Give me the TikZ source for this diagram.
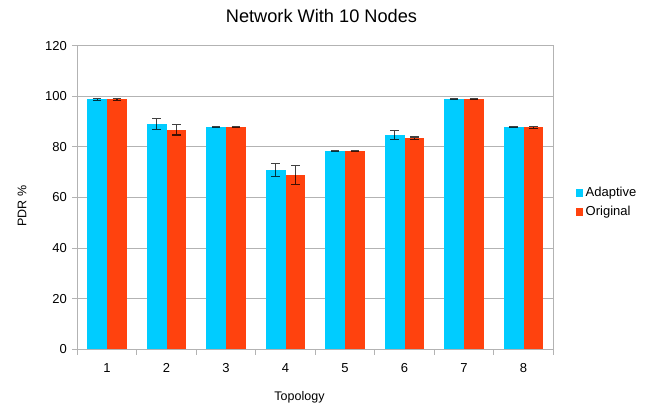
\documentclass[tikz,border=0pt]{standalone}
\usepackage{fontspec}
\setmainfont{Liberation Sans}
\definecolor{adapt}{HTML}{00CCFF}
\definecolor{orig}{HTML}{FF420E}
\definecolor{gridc}{HTML}{B3B3B3}
\tikzset{
  gridline/.style={draw=gridc, line width=1pt},
  barA/.style={fill=adapt, draw=none},
  barO/.style={fill=orig, draw=none},
  errbar/.style={draw=black, draw opacity=0.75, line width=1.1pt},
  ticklab/.style={font=\fontsize{13}{13}\selectfont, inner sep=0pt},
}
\begin{document}
\begin{tikzpicture}[x=1pt, y=-1pt]
\useasboundingbox (0,0) rectangle (659,411);
\fill[white] (0,0) rectangle (659,411);
% gridlines and y ticks
\foreach \v in {0,20,...,120} {
  \pgfmathsetmacro{\yy}{349.3-\v*2.53}
  \draw[gridline] (72,\yy) -- (553.5,\yy);
  \node[ticklab, anchor=east] at (67,\yy) {\v};
}
% right border
\draw[gridline] (553.5,45.7) -- (553.5,355);
% bars
\foreach \i/\a/\ea/\o/\eo in {1/98.8/0.3/98.8/0.3, 2/89.0/2.1/86.7/2.0, 3/87.8/0.3/87.8/0.2, 4/70.9/2.6/68.9/3.6, 5/78.3/0.2/78.3/0.2, 6/84.7/1.7/83.5/0.4, 7/98.9/0.3/98.9/0.3, 8/87.9/0.3/87.7/0.4} {
  \pgfmathsetmacro{\L}{77.3+(\i-1)*59.5}
  \pgfmathsetmacro{\ya}{349.3-\a*2.53}
  \pgfmathsetmacro{\yo}{349.3-\o*2.53}
  \fill[barA] (\L+9.9,349.3) rectangle (\L+29.75,\ya);
  \fill[barO] (\L+29.75,349.3) rectangle (\L+49.6,\yo);
  % error bars
  \pgfmathsetmacro{\xa}{\L+19.8}
  \pgfmathsetmacro{\xo}{\L+39.7}
  \pgfmathsetmacro{\yat}{349.3-(\a+\ea)*2.53}
  \pgfmathsetmacro{\yab}{349.3-(\a-\ea)*2.53}
  \pgfmathsetmacro{\yot}{349.3-(\o+\eo)*2.53}
  \pgfmathsetmacro{\yob}{349.3-(\o-\eo)*2.53}
  \draw[errbar] (\xa,\yat) -- (\xa,\yab) (\xa-4.3,\yat) -- (\xa+4.3,\yat) (\xa-4.3,\yab) -- (\xa+4.3,\yab);
  \draw[errbar] (\xo,\yot) -- (\xo,\yob) (\xo-4.3,\yot) -- (\xo+4.3,\yot) (\xo-4.3,\yob) -- (\xo+4.3,\yob);
  \node[ticklab] at (\L+29.75,368) {\i};
}
% axes
\draw[gridline] (77.3,45.7) -- (77.3,349.3);
\draw[gridline] (72,349.3) -- (553.5,349.3);
\foreach \i in {0,...,8} {
  \draw[gridline] (77.3+\i*59.5,349.3) -- (77.3+\i*59.5,355);
}
% titles
\node[font=\fontsize{18.2}{18.2}\selectfont, inner sep=0pt] at (321.5,16) {Network With 10 Nodes};
\node[font=\fontsize{12.5}{12.5}\selectfont, inner sep=0pt] at (299.5,397) {Topology};
\node[font=\fontsize{12.5}{12.5}\selectfont, inner sep=0pt, rotate=90] at (22,206) {PDR \%};
% legend
\fill[adapt] (575.5,189.5) rectangle (583,197);
\fill[orig] (575.5,208.5) rectangle (583,216);
\node[ticklab, anchor=west] at (585.5,193.5) {Adaptive};
\node[ticklab, anchor=west] at (585.5,212.5) {Original};
\end{tikzpicture}
\end{document}
